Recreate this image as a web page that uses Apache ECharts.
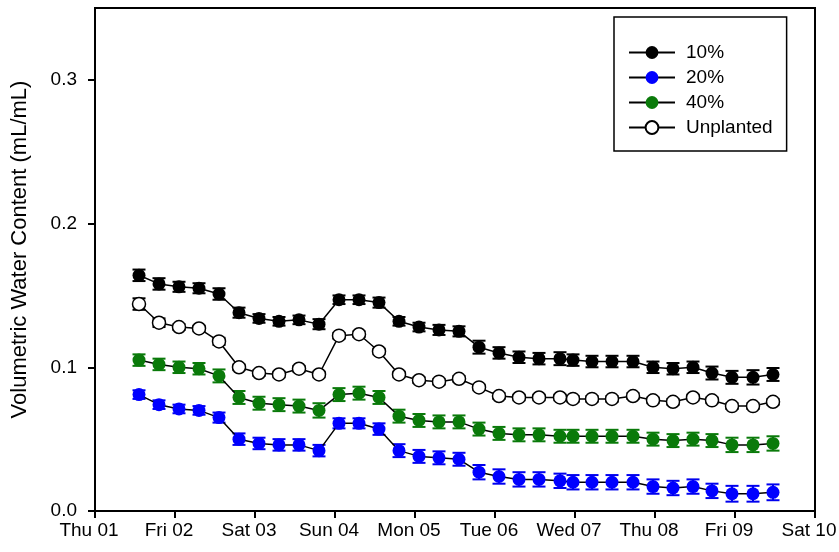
<!DOCTYPE html>
<html>
<head>
<meta charset="utf-8">
<script src="https://cdn.jsdelivr.net/npm/echarts@6/dist/echarts.min.js"></script>
<style>
  html, body { margin: 0; padding: 0; background: #fff; }
  #main { width: 839px; height: 552px; }
</style>
</head>
<body>
<div id="main"></div>
<script>
// x values are hours after Thu 01 00:00
var dayLabels = ['Thu 01', 'Fri 02', 'Sat 03', 'Sun 04', 'Mon 05', 'Tue 06', 'Wed 07', 'Thu 08', 'Fri 09', 'Sat 10'];
var yTicks = [0, 0.1, 0.2, 0.3];
var hours = [13.2, 19.2, 25.2, 31.2, 37.2, 43.2, 49.2, 55.2, 61.2, 67.2, 73.2, 79.2, 85.2, 91.2, 97.2, 103.2, 109.2,
             115.2, 121.2, 127.2, 133.2, 139.5, 143.4, 149.1, 155.1, 161.4, 167.4, 173.4, 179.4, 185.1, 191.1, 197.4, 203.4];

var names = ['10%', '20%', '40%', 'Unplanted'];

var pct10 = [0.164, 0.158, 0.156, 0.155, 0.151, 0.138, 0.134, 0.132, 0.133, 0.130, 0.147, 0.147, 0.145, 0.132, 0.128, 0.126, 0.125,
             0.114, 0.110, 0.107, 0.106, 0.106, 0.105, 0.104, 0.104, 0.104, 0.100, 0.099, 0.100, 0.096, 0.093, 0.093, 0.095];
var pct20 = [0.081, 0.074, 0.071, 0.070, 0.065, 0.050, 0.047, 0.046, 0.046, 0.042, 0.061, 0.061, 0.057, 0.042, 0.038, 0.037, 0.036,
             0.027, 0.024, 0.022, 0.022, 0.021, 0.020, 0.020, 0.020, 0.020, 0.017, 0.016, 0.017, 0.014, 0.012, 0.012, 0.013];
var pct40 = [0.105, 0.102, 0.100, 0.099, 0.094, 0.079, 0.075, 0.074, 0.073, 0.070, 0.081, 0.082, 0.079, 0.066, 0.063, 0.062, 0.062,
             0.057, 0.054, 0.053, 0.053, 0.052, 0.052, 0.052, 0.052, 0.052, 0.050, 0.049, 0.050, 0.049, 0.046, 0.046, 0.047];
var unplanted = [0.144, 0.131, 0.128, 0.127, 0.118, 0.100, 0.096, 0.095, 0.099, 0.095, 0.122, 0.123, 0.111, 0.095, 0.091, 0.090, 0.092,
                 0.086, 0.080, 0.079, 0.079, 0.079, 0.078, 0.078, 0.078, 0.080, 0.077, 0.076, 0.079, 0.077, 0.073, 0.073, 0.076];

// standard error (half bar height)
var err10 = [0.004, 0.004, 0.0035, 0.0035, 0.004, 0.0035, 0.003, 0.003, 0.003, 0.0035, 0.003, 0.003, 0.0035, 0.003, 0.003, 0.0035, 0.0035,
             0.0045, 0.004, 0.004, 0.004, 0.0045, 0.004, 0.004, 0.004, 0.004, 0.004, 0.004, 0.004, 0.0045, 0.0045, 0.005, 0.0045];
var err20 = [0.003, 0.003, 0.003, 0.003, 0.0035, 0.004, 0.004, 0.004, 0.004, 0.004, 0.0035, 0.0035, 0.004, 0.0045, 0.0045, 0.0045, 0.0045,
             0.005, 0.005, 0.005, 0.005, 0.005, 0.005, 0.005, 0.005, 0.005, 0.005, 0.005, 0.005, 0.005, 0.0055, 0.0055, 0.0055];
var err40 = [0.004, 0.004, 0.004, 0.004, 0.0045, 0.0045, 0.0045, 0.0045, 0.0045, 0.005, 0.0045, 0.0045, 0.0045, 0.0045, 0.0045, 0.0045, 0.0045,
             0.0045, 0.0045, 0.0045, 0.0045, 0.0045, 0.0045, 0.0045, 0.0045, 0.0045, 0.0045, 0.0045, 0.0045, 0.0045, 0.005, 0.005, 0.005];
var errU = [0.004, 0.003, 0.002, 0.002, 0.0025, 0.002, 0.002, 0.002, 0.002, 0.002, 0.002, 0.002, 0.002, 0.002, 0.002, 0.002, 0.002,
            0.002, 0.002, 0.002, 0.002, 0.002, 0.002, 0.002, 0.002, 0.002, 0.002, 0.002, 0.002, 0.002, 0.002, 0.002, 0.002];

var FONT = '"Liberation Sans", Arial, sans-serif';

var chart = echarts.init(document.getElementById('main'));

function pts(vals) {
    var out = [];
    for (var i = 0; i < vals.length; i++) out.push([hours[i], vals[i]]);
    return out;
}
function bars(vals, errs) {
    var out = [];
    for (var i = 0; i < vals.length; i++) out.push([hours[i], vals[i] - errs[i], vals[i] + errs[i]]);
    return out;
}
function errSeries(vals, errs, color) {
    return {
        type: 'custom',
        name: 'err',
        z: 1,
        silent: true,
        data: bars(vals, errs),
        renderItem: function (params, api) {
            var lo = api.coord([api.value(0), api.value(1)]);
            var hi = api.coord([api.value(0), api.value(2)]);
            var w = 6.5;
            var st = { stroke: color, lineWidth: 2 };
            return {
                type: 'group',
                children: [
                    { type: 'line', shape: { x1: lo[0], y1: lo[1], x2: hi[0], y2: hi[1] }, style: st },
                    { type: 'line', shape: { x1: lo[0] - w, y1: lo[1], x2: lo[0] + w, y2: lo[1] }, style: st },
                    { type: 'line', shape: { x1: hi[0] - w, y1: hi[1], x2: hi[0] + w, y2: hi[1] }, style: st }
                ]
            };
        }
    };
}
function lineSeries(name, vals, fill) {
    var hollow = fill === '#ffffff';
    return {
        type: 'line',
        name: name,
        z: 3,
        data: pts(vals),
        symbol: 'circle',
        symbolSize: 13,
        showAllSymbol: true,
        lineStyle: { color: '#000', width: 1.5 },
        itemStyle: { color: fill, borderColor: hollow ? '#000' : fill, borderWidth: hollow ? 1.5 : 0, opacity: 1 },
        emphasis: { disabled: true }
    };
}

option = {
    animation: false,
    backgroundColor: '#fff',
    grid: {
        left: 95,
        right: 24,
        top: 8,
        bottom: 41,
        outerBoundsMode: 'none',
        show: true,
        borderColor: '#000',
        borderWidth: 2
    },
    legend: {
        data: names,
        orient: 'vertical',
        left: 614,
        top: 17,
        padding: [26, 14, 14, 14],
        itemGap: 6,
        itemWidth: 46,
        itemHeight: 16,
        borderColor: '#000',
        borderWidth: 1.5,
        textStyle: { fontFamily: FONT, fontSize: 19, color: '#000', padding: [0, 0, 0, 6] }
    },
    xAxis: {
        type: 'value',
        min: 0,
        max: 216,
        interval: 24,
        splitLine: { show: false },
        axisLine: { lineStyle: { color: '#000', width: 2 } },
        axisTick: { length: 7, lineStyle: { color: '#000', width: 2 } },
        axisLabel: {
            margin: 10,
            padding: [0, 12, 0, 0],
            fontFamily: FONT, fontSize: 19, color: '#000',
            formatter: function (v) { return dayLabels[Math.round(v / 24)]; }
        }
    },
    yAxis: {
        type: 'value',
        min: 0,
        max: 0.35,
        interval: 0.1,
        name: 'Volumetric Water Content (mL/mL)',
        nameLocation: 'middle',
        nameGap: 64,
        nameTextStyle: { fontFamily: FONT, fontSize: 22, color: '#000', padding: [0, 0, 0, 20] },
        splitLine: { show: false },
        axisLine: { lineStyle: { color: '#000', width: 2 } },
        axisTick: { length: 7, customValues: yTicks, lineStyle: { color: '#000', width: 2 } },
        axisLabel: {
            margin: 18,
            customValues: yTicks,
            fontFamily: FONT, fontSize: 19, color: '#000',
            formatter: function (v) { return v.toFixed(1); }
        }
    },
    series: [
        errSeries(pct10, err10, '#000'),
        errSeries(pct20, err20, '#0000ee'),
        errSeries(pct40, err40, '#0a7a0a'),
        errSeries(unplanted, errU, '#000'),
        lineSeries('10%', pct10, '#000000'),
        lineSeries('20%', pct20, '#0000ff'),
        lineSeries('40%', pct40, '#0a7a0a'),
        lineSeries('Unplanted', unplanted, '#ffffff')
    ]
};
chart.setOption(option);
</script>
</body>
</html>
